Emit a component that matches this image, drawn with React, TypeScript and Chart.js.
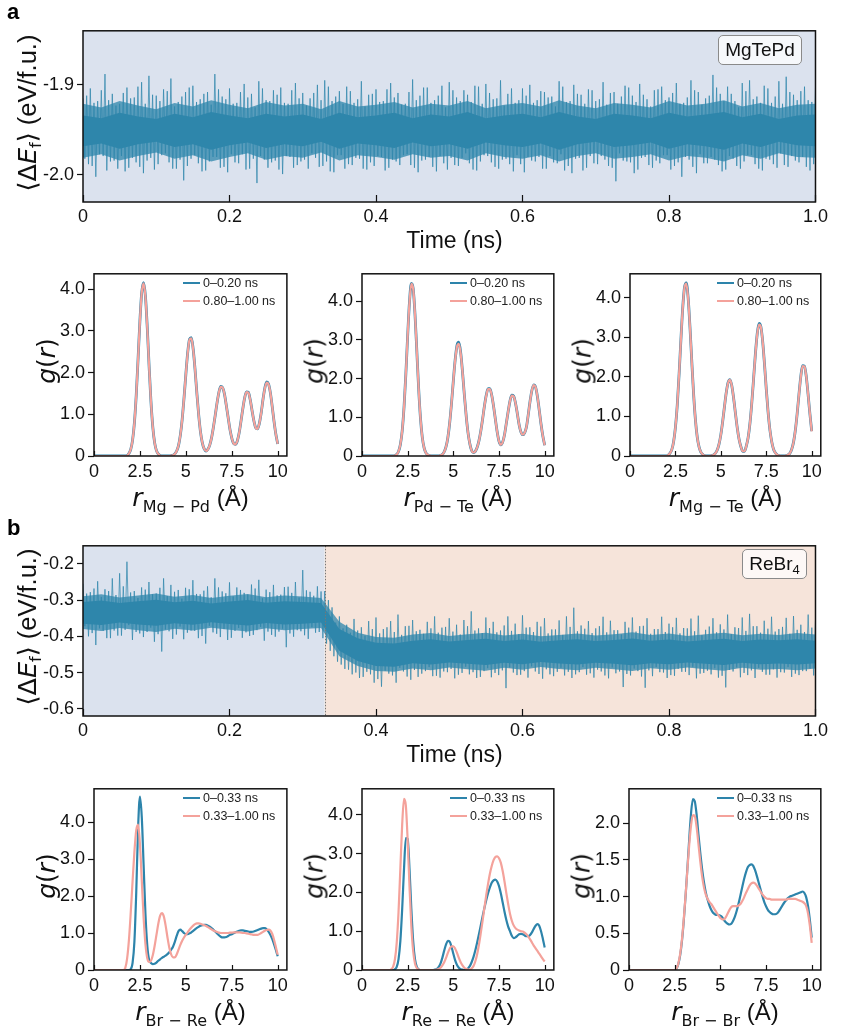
import React, { useEffect, useRef } from "react";
import { Chart, registerables } from "chart.js";
Chart.register(...registerables);

const FONT = "'Liberation Sans', Arial, Helvetica, sans-serif";
const MATH_FONT = "'DejaVu Sans', 'Liberation Sans', sans-serif";
const BLUE = "#2d84ab";
const SALMON = "#f4a29b";
const TRACE_CORE = "#2e86ab";
const TRACE_MID = "rgba(46,134,171,0.75)";
const TRACE_SPIKE = "rgba(46,134,171,0.8)";
const BG_BLUE = "#dbe2ee";
const BG_PEACH = "#f6e4da";

// ---------------- tick values / labels ----------------
const TIME_TICKS = [0, 0.2, 0.4, 0.6, 0.8, 1.0];
const TIME_TICK_LABELS = ["0", "0.2", "0.4", "0.6", "0.8", "1.0"];
const ENERGY_A_TICKS = [-2.0, -1.9];
const ENERGY_A_LABELS = ["-2.0", "-1.9"];
const ENERGY_B_TICKS = [-0.6, -0.5, -0.4, -0.3, -0.2];
const ENERGY_B_LABELS = ["-0.6", "-0.5", "-0.4", "-0.3", "-0.2"];
const R_TICKS = [0, 2.5, 5, 7.5, 10];
const R_TICK_LABELS = ["0", "2.5", "5", "7.5", "10"];
const G_TICKS = [0, 1, 2, 3, 4];
const G_TICK_LABELS = ["0", "1.0", "2.0", "3.0", "4.0"];
const G_BRBR_TICKS = [0, 0.5, 1, 1.5, 2];
const G_BRBR_LABELS = ["0", "0.5", "1.0", "1.5", "2.0"];

const LEGEND_A = ["0\u20130.20 ns", "0.80\u20131.00 ns"];
const LEGEND_B = ["0\u20130.33 ns", "0.33\u20131.00 ns"];
const REBR4_SWITCH = 0.33;

// ---------------- time series ----------------
// Within each 0.01 ns slot the trace visits: high (t), low2 (t+0.0025), high2 (t+0.005), low (t+0.0075)
const NOISE_STEP = 0.01;
const BAND_STEP = 0.025; // dense-band edges

// panel a: MgTePd
const aHigh = [
  -1.915, -1.904, -1.918, -1.888, -1.910, -1.921, -1.903, -1.914, -1.897, -1.890,
  -1.912, -1.905, -1.893, -1.919, -1.908, -1.901, -1.916, -1.908, -1.888, -1.913,
  -1.904, -1.920, -1.899, -1.910, -1.896, -1.917, -1.906, -1.903, -1.921, -1.898,
  -1.909, -1.915, -1.900, -1.895, -1.918, -1.907, -1.902, -1.920, -1.896, -1.911,
  -1.905, -1.918, -1.898, -1.909, -1.921, -1.894, -1.912, -1.903, -1.917, -1.901,
  -1.897, -1.914, -1.906, -1.919, -1.902, -1.899, -1.916, -1.895, -1.910, -1.920,
  -1.904, -1.900, -1.917, -1.908, -1.913, -1.896, -1.919, -1.900, -1.911, -1.905,
  -1.918, -1.897, -1.909, -1.921, -1.901, -1.912, -1.899, -1.916, -1.906, -1.902,
  -1.914, -1.898, -1.920, -1.895, -1.908, -1.915, -1.889, -1.910, -1.902, -1.918,
  -1.898, -1.895, -1.913, -1.901, -1.920, -1.896, -1.891, -1.911, -1.907, -1.917,
  -1.903,
];
const aHigh2 = [
  -1.912, -1.920, -1.906, -1.917, -1.923, -1.909, -1.915, -1.902, -1.921, -1.911,
  -1.918, -1.907, -1.924, -1.913, -1.903, -1.919, -1.910, -1.922, -1.905, -1.916,
  -1.921, -1.908, -1.914, -1.925, -1.904, -1.918, -1.911, -1.920, -1.906, -1.915,
  -1.923, -1.909, -1.917, -1.902, -1.913, -1.921, -1.907, -1.916, -1.924, -1.910,
  -1.919, -1.905, -1.914, -1.922, -1.908, -1.917, -1.903, -1.920, -1.912, -1.925,
  -1.906, -1.918, -1.911, -1.901, -1.921, -1.909, -1.915, -1.923, -1.904, -1.917,
  -1.912, -1.920, -1.907, -1.914, -1.924, -1.902, -1.918, -1.910, -1.921, -1.906,
  -1.916, -1.922, -1.908, -1.913, -1.903, -1.919, -1.911, -1.924, -1.905, -1.917,
  -1.909, -1.921, -1.914, -1.906, -1.922, -1.912, -1.903, -1.918, -1.910, -1.925,
  -1.907, -1.916, -1.920, -1.904, -1.913, -1.921, -1.908, -1.917, -1.902, -1.919,
];
const aLow = [
  -1.988, -2.002, -1.979, -1.985, -1.993, -1.996, -1.981, -1.991, -1.984, -1.994,
  -1.978, -1.986, -1.993, -2.006, -1.982, -1.987, -1.995, -1.980, -1.992, -1.997,
  -1.986, -1.977, -1.993, -2.009, -1.983, -1.986, -1.994, -1.979, -1.992, -1.985,
  -1.993, -1.981, -1.990, -1.996, -1.978, -1.993, -1.989, -1.982, -1.994, -1.990,
  -1.980, -1.992, -1.985, -1.978, -1.989, -1.997, -1.983, -1.991, -1.979, -1.994,
  -1.989, -1.981, -1.987, -1.995, -1.978, -1.986, -1.993, -1.982, -1.996, -1.988,
  -1.980, -1.985, -1.993, -1.979, -1.987, -1.995, -1.998, -1.981, -1.992, -1.987,
  -1.979, -1.990, -2.007, -1.984, -1.986, -1.994, -1.980, -1.992, -1.987, -1.978,
  -1.990, -2.002, -1.983, -1.998, -1.987, -1.980, -1.989, -1.994, -1.982, -1.993,
  -1.978, -1.988, -1.995, -1.983, -1.992, -1.989, -1.979, -1.986, -1.991, -1.988,
];
const aLow2 = [
  -1.982, -1.990, -1.977, -1.995, -1.984, -1.979, -1.992, -1.986, -1.998, -1.981,
  -1.988, -1.976, -1.993, -1.983, -1.990, -1.978, -1.996, -1.985, -1.980, -1.991,
  -1.977, -1.987, -1.994, -1.982, -1.979, -1.992, -1.984, -1.999, -1.980, -1.989,
  -1.983, -1.976, -1.991, -1.985, -1.997, -1.978, -1.988, -1.981, -1.993, -1.986,
  -1.979, -1.995, -1.983, -1.989, -1.977, -1.992, -1.984, -1.980, -1.996, -1.987,
  -1.981, -1.990, -1.976, -1.994, -1.985, -1.979, -1.991, -1.983, -1.988, -1.978,
  -1.997, -1.984, -1.980, -1.993, -1.986, -1.977, -1.990, -1.982, -1.995, -1.979,
  -1.988, -1.983, -1.992, -1.976, -1.985, -1.998, -1.981, -1.989, -1.984, -1.978,
  -1.994, -1.986, -1.980, -1.991, -1.977, -1.987, -1.983, -1.996, -1.979, -1.990,
  -1.985, -1.978, -1.993, -1.982, -1.988, -1.976, -1.991, -1.984, -1.980, -1.995,
];
const aMidHi = [
  -1.921, -1.925, -1.918, -1.923, -1.927, -1.920, -1.924, -1.917, -1.922, -1.926,
  -1.919, -1.923, -1.921, -1.927, -1.918, -1.924, -1.922, -1.919, -1.925, -1.921,
  -1.923, -1.918, -1.926, -1.922, -1.920, -1.924, -1.917, -1.923, -1.926, -1.920,
  -1.922, -1.925, -1.918, -1.923, -1.921, -1.917, -1.924, -1.920, -1.926, -1.922,
  -1.921,
];
const aMidLo = [
  -1.981, -1.977, -1.984, -1.979, -1.975, -1.982, -1.978, -1.985, -1.980, -1.976,
  -1.983, -1.979, -1.981, -1.975, -1.984, -1.978, -1.980, -1.983, -1.977, -1.981,
  -1.979, -1.984, -1.976, -1.980, -1.982, -1.978, -1.985, -1.979, -1.976, -1.982,
  -1.980, -1.977, -1.984, -1.979, -1.981, -1.985, -1.978, -1.982, -1.976, -1.980,
  -1.981,
];
const aCoreHi = [
  -1.934, -1.937, -1.931, -1.935, -1.938, -1.932, -1.936, -1.930, -1.934, -1.937,
  -1.932, -1.935, -1.933, -1.938, -1.931, -1.936, -1.934, -1.931, -1.937, -1.933,
  -1.935, -1.930, -1.937, -1.934, -1.932, -1.936, -1.930, -1.935, -1.938, -1.932,
  -1.934, -1.937, -1.931, -1.935, -1.933, -1.930, -1.936, -1.932, -1.938, -1.934,
  -1.933,
];
const aCoreLo = [
  -1.968, -1.965, -1.971, -1.966, -1.963, -1.969, -1.966, -1.972, -1.967, -1.964,
  -1.970, -1.966, -1.968, -1.963, -1.971, -1.965, -1.967, -1.970, -1.964, -1.968,
  -1.966, -1.971, -1.964, -1.967, -1.969, -1.965, -1.972, -1.966, -1.963, -1.969,
  -1.967, -1.964, -1.971, -1.966, -1.968, -1.972, -1.965, -1.969, -1.963, -1.967,
  -1.968,
];

// panel b: ReBr4
const bHigh = [
  -0.255, -0.278, -0.248, -0.270, -0.240, -0.226, -0.194, -0.275, -0.265, -0.250,
  -0.282, -0.240, -0.258, -0.272, -0.266, -0.245, -0.284, -0.262, -0.240, -0.276,
  -0.251, -0.265, -0.280, -0.257, -0.244, -0.271, -0.258, -0.285, -0.263, -0.250,
  -0.217, -0.277, -0.262, -0.275, -0.320, -0.345, -0.368, -0.352, -0.375, -0.358,
  -0.348, -0.380, -0.358, -0.340, -0.372, -0.355, -0.382, -0.360, -0.345, -0.376,
  -0.350, -0.368, -0.355, -0.331, -0.378, -0.348, -0.360, -0.384, -0.345, -0.365,
  -0.342, -0.375, -0.360, -0.350, -0.381, -0.356, -0.345, -0.321, -0.370, -0.358,
  -0.378, -0.346, -0.357, -0.383, -0.360, -0.348, -0.372, -0.350, -0.380, -0.346,
  -0.365, -0.349, -0.377, -0.351, -0.343, -0.382, -0.350, -0.367, -0.340, -0.375,
  -0.348, -0.338, -0.372, -0.357, -0.346, -0.380, -0.349, -0.344, -0.368, -0.340,
  -0.356,
];
const bHigh2 = [
  -0.282, -0.268, -0.291, -0.275, -0.286, -0.262, -0.279, -0.294, -0.271, -0.284,
  -0.266, -0.289, -0.277, -0.296, -0.270, -0.283, -0.274, -0.292, -0.265, -0.281,
  -0.290, -0.272, -0.285, -0.268, -0.295, -0.278, -0.287, -0.264, -0.280, -0.293,
  -0.273, -0.288, -0.276, -0.300, -0.362, -0.378, -0.390, -0.384, -0.398, -0.380,
  -0.392, -0.375, -0.388, -0.396, -0.371, -0.386, -0.393, -0.378, -0.390, -0.374,
  -0.387, -0.395, -0.372, -0.384, -0.391, -0.377, -0.389, -0.370, -0.385, -0.394,
  -0.376, -0.388, -0.373, -0.392, -0.381, -0.396, -0.374, -0.386, -0.379, -0.391,
  -0.372, -0.389, -0.383, -0.395, -0.376, -0.387, -0.371, -0.393, -0.380, -0.388,
  -0.375, -0.392, -0.378, -0.386, -0.397, -0.373, -0.389, -0.381, -0.394, -0.377,
  -0.385, -0.372, -0.390, -0.379, -0.387, -0.374, -0.393, -0.382, -0.388, -0.376,
];
const bLow = [
  -0.400, -0.424, -0.385, -0.405, -0.398, -0.382, -0.410, -0.392, -0.388, -0.415,
  -0.442, -0.386, -0.395, -0.408, -0.384, -0.405, -0.420, -0.389, -0.402, -0.410,
  -0.385, -0.404, -0.399, -0.383, -0.412, -0.396, -0.387, -0.430, -0.401, -0.386,
  -0.407, -0.390, -0.405, -0.440, -0.470, -0.490, -0.505, -0.515, -0.498, -0.528,
  -0.539, -0.503, -0.528, -0.497, -0.520, -0.512, -0.496, -0.510, -0.514, -0.499,
  -0.516, -0.501, -0.505, -0.515, -0.496, -0.513, -0.507, -0.543, -0.500, -0.506,
  -0.514, -0.497, -0.517, -0.505, -0.498, -0.508, -0.515, -0.499, -0.506, -0.514,
  -0.497, -0.516, -0.502, -0.540, -0.508, -0.496, -0.542, -0.510, -0.499, -0.515,
  -0.509, -0.498, -0.507, -0.516, -0.501, -0.505, -0.514, -0.541, -0.497, -0.513,
  -0.507, -0.515, -0.498, -0.506, -0.514, -0.500, -0.512, -0.507, -0.496, -0.508,
];
const bLow2 = [
  -0.372, -0.391, -0.378, -0.405, -0.384, -0.398, -0.369, -0.388, -0.402, -0.376,
  -0.394, -0.381, -0.407, -0.373, -0.390, -0.385, -0.399, -0.371, -0.393, -0.380,
  -0.404, -0.377, -0.389, -0.396, -0.374, -0.387, -0.401, -0.379, -0.392, -0.383,
  -0.397, -0.375, -0.388, -0.420, -0.455, -0.478, -0.492, -0.500, -0.512, -0.505,
  -0.518, -0.495, -0.508, -0.487, -0.511, -0.493, -0.503, -0.485, -0.509, -0.497,
  -0.490, -0.506, -0.484, -0.499, -0.512, -0.488, -0.501, -0.494, -0.486, -0.507,
  -0.496, -0.483, -0.504, -0.491, -0.510, -0.487, -0.498, -0.505, -0.485, -0.502,
  -0.492, -0.508, -0.486, -0.497, -0.504, -0.489, -0.511, -0.494, -0.485, -0.500,
  -0.507, -0.490, -0.498, -0.484, -0.503, -0.495, -0.488, -0.509, -0.493, -0.486,
  -0.501, -0.494, -0.487, -0.506, -0.491, -0.499, -0.485, -0.503, -0.496, -0.489,
];
const bMidHi = [
  -0.289, -0.284, -0.293, -0.287, -0.282, -0.291, -0.286, -0.294, -0.288, -0.283,
  -0.292, -0.287, -0.290, -0.294, -0.360, -0.390, -0.402, -0.404, -0.395, -0.391,
  -0.399, -0.394, -0.390, -0.398, -0.393, -0.400, -0.396, -0.392, -0.398, -0.394,
  -0.389, -0.396, -0.392, -0.399, -0.394, -0.390, -0.397, -0.393, -0.396, -0.391,
  -0.395,
];
const bMidLo = [
  -0.380, -0.385, -0.377, -0.383, -0.388, -0.379, -0.384, -0.376, -0.382, -0.387,
  -0.378, -0.383, -0.380, -0.377, -0.455, -0.482, -0.496, -0.498, -0.489, -0.494,
  -0.486, -0.491, -0.495, -0.487, -0.492, -0.485, -0.490, -0.494, -0.487, -0.491,
  -0.496, -0.488, -0.492, -0.486, -0.491, -0.495, -0.487, -0.492, -0.490, -0.494,
  -0.489,
];
const bCoreHi = [
  -0.305, -0.301, -0.308, -0.303, -0.299, -0.306, -0.302, -0.309, -0.304, -0.300,
  -0.307, -0.303, -0.305, -0.308, -0.380, -0.405, -0.418, -0.420, -0.412, -0.408,
  -0.414, -0.410, -0.407, -0.413, -0.409, -0.415, -0.411, -0.408, -0.413, -0.410,
  -0.406, -0.412, -0.409, -0.414, -0.410, -0.407, -0.413, -0.409, -0.411, -0.408,
  -0.412,
];
const bCoreLo = [
  -0.365, -0.369, -0.362, -0.367, -0.371, -0.364, -0.368, -0.361, -0.366, -0.370,
  -0.363, -0.367, -0.365, -0.362, -0.440, -0.468, -0.482, -0.484, -0.474, -0.478,
  -0.472, -0.476, -0.479, -0.473, -0.477, -0.471, -0.475, -0.478, -0.473, -0.476,
  -0.480, -0.474, -0.477, -0.472, -0.476, -0.479, -0.473, -0.477, -0.475, -0.478,
  -0.474,
];

// ---------------- radial distribution functions ----------------
// r grid: 0, then 1.5 .. 10.0 in 0.1 Å steps
const R_GRID = [
  0,
  1.5, 1.6, 1.7, 1.8, 1.9,
  2.0, 2.1, 2.2, 2.3, 2.4, 2.5, 2.6, 2.7, 2.8, 2.9,
  3.0, 3.1, 3.2, 3.3, 3.4, 3.5, 3.6, 3.7, 3.8, 3.9,
  4.0, 4.1, 4.2, 4.3, 4.4, 4.5, 4.6, 4.7, 4.8, 4.9,
  5.0, 5.1, 5.2, 5.3, 5.4, 5.5, 5.6, 5.7, 5.8, 5.9,
  6.0, 6.1, 6.2, 6.3, 6.4, 6.5, 6.6, 6.7, 6.8, 6.9,
  7.0, 7.1, 7.2, 7.3, 7.4, 7.5, 7.6, 7.7, 7.8, 7.9,
  8.0, 8.1, 8.2, 8.3, 8.4, 8.5, 8.6, 8.7, 8.8, 8.9,
  9.0, 9.1, 9.2, 9.3, 9.4, 9.5, 9.6, 9.7, 9.8, 9.9,
  10.0,
];

const gMgPdEarly = [
  0,
  0, 0, 0, 0.01, 0.06,
  0.16, 0.38, 0.80, 1.47, 2.34, 3.25, 3.93, 4.16, 3.83, 3.08,
  2.15, 1.31, 0.70, 0.32, 0.13, 0.05, 0.01, 0, 0, 0,
  0, 0, 0.01, 0.02, 0.05, 0.12, 0.25, 0.50, 0.88, 1.39,
  1.96, 2.48, 2.80, 2.84, 2.56, 2.08, 1.50, 0.98, 0.57, 0.31,
  0.17, 0.12, 0.16, 0.26, 0.44, 0.69, 0.98, 1.28, 1.53, 1.67,
  1.64, 1.49, 1.22, 0.93, 0.64, 0.43, 0.30, 0.28, 0.36, 0.55,
  0.83, 1.13, 1.39, 1.54, 1.53, 1.36, 1.10, 0.85, 0.68, 0.65,
  0.78, 1.03, 1.36, 1.63, 1.78, 1.73, 1.52, 1.19, 0.83, 0.52,
  0.29,
];
const gMgPdLate = [
  0,
  0, 0, 0, 0.01, 0.06,
  0.16, 0.38, 0.80, 1.47, 2.33, 3.24, 3.92, 4.14, 3.82, 3.07,
  2.15, 1.31, 0.70, 0.32, 0.13, 0.05, 0.01, 0, 0, 0,
  0, 0, 0.01, 0.02, 0.05, 0.12, 0.25, 0.50, 0.88, 1.39,
  1.96, 2.47, 2.79, 2.82, 2.55, 2.08, 1.50, 0.98, 0.57, 0.31,
  0.17, 0.12, 0.16, 0.26, 0.44, 0.69, 0.98, 1.28, 1.53, 1.66,
  1.64, 1.49, 1.22, 0.93, 0.64, 0.43, 0.30, 0.28, 0.36, 0.55,
  0.83, 1.13, 1.39, 1.53, 1.52, 1.36, 1.10, 0.85, 0.68, 0.65,
  0.78, 1.03, 1.36, 1.62, 1.76, 1.72, 1.52, 1.19, 0.83, 0.52,
  0.29,
];

const gPdTeEarly = [
  0,
  0, 0, 0, 0.01, 0.04,
  0.12, 0.30, 0.65, 1.26, 2.12, 3.12, 3.99, 4.46, 4.33, 3.67,
  2.72, 1.75, 0.98, 0.48, 0.21, 0.08, 0.03, 0.01, 0, 0,
  0, 0, 0, 0.02, 0.04, 0.11, 0.24, 0.48, 0.86, 1.37,
  1.95, 2.49, 2.86, 2.94, 2.68, 2.18, 1.59, 1.05, 0.61, 0.32,
  0.14, 0.09, 0.12, 0.22, 0.39, 0.64, 0.95, 1.29, 1.57, 1.74,
  1.74, 1.57, 1.29, 0.95, 0.62, 0.38, 0.29, 0.36, 0.55, 0.85,
  1.15, 1.42, 1.57, 1.55, 1.37, 1.10, 0.81, 0.62, 0.55, 0.60,
  0.75, 1.07, 1.42, 1.70, 1.84, 1.78, 1.54, 1.19, 0.82, 0.51,
  0.28,
];
const gPdTeLate = [
  0,
  0, 0, 0, 0.01, 0.04,
  0.12, 0.30, 0.65, 1.26, 2.12, 3.12, 3.98, 4.45, 4.33, 3.67,
  2.72, 1.75, 0.98, 0.48, 0.21, 0.08, 0.03, 0.01, 0, 0,
  0, 0, 0, 0.02, 0.04, 0.11, 0.24, 0.48, 0.86, 1.37,
  1.95, 2.48, 2.83, 2.90, 2.66, 2.18, 1.59, 1.05, 0.61, 0.32,
  0.14, 0.09, 0.12, 0.22, 0.39, 0.64, 0.95, 1.29, 1.56, 1.73,
  1.73, 1.57, 1.29, 0.95, 0.62, 0.38, 0.29, 0.36, 0.55, 0.85,
  1.15, 1.42, 1.56, 1.54, 1.37, 1.10, 0.81, 0.62, 0.55, 0.60,
  0.75, 1.07, 1.42, 1.70, 1.83, 1.78, 1.54, 1.19, 0.82, 0.51,
  0.28,
];

const gMgTeEarly = [
  0,
  0, 0, 0, 0, 0,
  0, 0.02, 0.07, 0.16, 0.36, 0.72, 1.28, 2.05, 2.92, 3.73,
  4.26, 4.37, 3.99, 3.26, 2.39, 1.57, 0.92, 0.48, 0.23, 0.10,
  0.04, 0.01, 0, 0, 0, 0.01, 0.03, 0.07, 0.15, 0.30,
  0.54, 0.87, 1.25, 1.61, 1.86, 1.93, 1.78, 1.47, 1.09, 0.72,
  0.43, 0.24, 0.12, 0.12, 0.25, 0.46, 0.82, 1.33, 1.94, 2.57,
  3.08, 3.35, 3.27, 2.90, 2.33, 1.69, 1.11, 0.66, 0.36, 0.17,
  0.08, 0.03, 0.01, 0, 0, 0, 0.01, 0.03, 0.07, 0.17,
  0.35, 0.65, 1.07, 1.56, 2.01, 2.28, 2.27, 2.01, 1.56, 1.07,
  0.63,
];
const gMgTeLate = [
  0,
  0, 0, 0, 0, 0,
  0, 0.02, 0.07, 0.16, 0.36, 0.72, 1.28, 2.05, 2.92, 3.72,
  4.25, 4.35, 3.98, 3.26, 2.39, 1.57, 0.92, 0.48, 0.23, 0.10,
  0.04, 0.01, 0, 0, 0, 0.01, 0.03, 0.07, 0.15, 0.30,
  0.54, 0.87, 1.25, 1.61, 1.85, 1.92, 1.78, 1.47, 1.09, 0.72,
  0.43, 0.24, 0.12, 0.12, 0.25, 0.46, 0.82, 1.33, 1.94, 2.56,
  3.07, 3.32, 3.26, 2.90, 2.33, 1.69, 1.11, 0.66, 0.36, 0.17,
  0.08, 0.03, 0.01, 0, 0, 0, 0.01, 0.03, 0.07, 0.17,
  0.35, 0.65, 1.07, 1.56, 2.00, 2.27, 2.26, 2.01, 1.56, 1.07,
  0.62,
];

const gBrReEarly = [
  0,
  0, 0, 0, 0, 0,
  0.02, 0.19, 0.77, 2.11, 3.84, 4.69, 4.14, 2.85, 1.52, 0.66,
  0.27, 0.19, 0.16, 0.17, 0.20, 0.25, 0.29, 0.33, 0.36, 0.39,
  0.43, 0.48, 0.55, 0.63, 0.76, 0.92, 1.05, 1.09, 1.05, 1.00,
  0.97, 0.97, 0.99, 1.02, 1.06, 1.10, 1.14, 1.17, 1.20, 1.21,
  1.22, 1.22, 1.20, 1.17, 1.13, 1.09, 1.04, 0.99, 0.94, 0.90,
  0.88, 0.88, 0.89, 0.92, 0.95, 0.97, 0.99, 1.02, 1.04, 1.06,
  1.07, 1.07, 1.06, 1.05, 1.04, 1.03, 1.03, 1.04, 1.06, 1.08,
  1.10, 1.12, 1.13, 1.13, 1.10, 1.04, 0.95, 0.84, 0.70, 0.54,
  0.37,
];
const gBrReLate = [
  0,
  0, 0, 0.05, 0.30, 0.80,
  1.55, 2.40, 3.20, 3.78, 3.93, 3.41, 2.43, 1.42, 0.70, 0.32,
  0.22, 0.25, 0.40, 0.65, 0.95, 1.25, 1.47, 1.54, 1.45, 1.20,
  0.88, 0.60, 0.42, 0.34, 0.34, 0.42, 0.55, 0.68, 0.79, 0.88,
  0.95, 1.02, 1.09, 1.15, 1.20, 1.24, 1.26, 1.26, 1.25, 1.23,
  1.21, 1.19, 1.16, 1.13, 1.10, 1.07, 1.05, 1.03, 1.01, 1.00,
  1.00, 1.00, 1.00, 1.00, 1.01, 1.01, 1.02, 1.02, 1.02, 1.02,
  1.01, 1.00, 1.00, 0.99, 0.98, 0.97, 0.96, 0.95, 0.95, 0.95,
  0.97, 1.00, 1.03, 1.06, 1.08, 1.09, 1.07, 0.98, 0.82, 0.62,
  0.41,
];

const gReReEarly = [
  0,
  0, 0, 0, 0.02, 0.08,
  0.28, 0.75, 1.58, 2.61, 3.40, 3.38, 2.61, 1.58, 0.75, 0.28,
  0.08, 0.02, 0, 0, 0, 0, 0, 0, 0, 0,
  0.01, 0.03, 0.08, 0.17, 0.32, 0.50, 0.66, 0.75, 0.73, 0.60,
  0.42, 0.25, 0.13, 0.06, 0.02, 0.01, 0, 0.01, 0.04, 0.10,
  0.20, 0.33, 0.50, 0.70, 0.92, 1.15, 1.38, 1.60, 1.80, 1.98,
  2.13, 2.25, 2.31, 2.33, 2.28, 2.16, 1.97, 1.74, 1.50, 1.29,
  1.12, 1.00, 0.88, 0.82, 0.84, 0.88, 0.92, 0.93, 0.92, 0.89,
  0.87, 0.87, 0.90, 0.97, 1.06, 1.14, 1.18, 1.14, 1.00, 0.80,
  0.58,
];
const gReReLate = [
  0,
  0, 0.02, 0.08, 0.27, 0.70,
  1.50, 2.62, 3.76, 4.41, 4.24, 3.33, 2.15, 1.13, 0.49, 0.17,
  0.05, 0.01, 0, 0, 0, 0, 0, 0, 0, 0,
  0, 0.01, 0.03, 0.06, 0.12, 0.20, 0.31, 0.44, 0.55, 0.61,
  0.61, 0.55, 0.44, 0.31, 0.20, 0.12, 0.06, 0.03, 0.01, 0.01,
  0.04, 0.10, 0.22, 0.40, 0.65, 0.95, 1.27, 1.60, 1.93, 2.22,
  2.48, 2.68, 2.83, 2.91, 2.93, 2.88, 2.76, 2.55, 2.28, 1.98,
  1.70, 1.45, 1.27, 1.15, 1.08, 1.04, 1.02, 1.00, 0.99, 0.96,
  0.92, 0.86, 0.79, 0.71, 0.63, 0.56, 0.49, 0.42, 0.35, 0.28,
  0.22,
];

const gBrBrEarly = [
  0,
  0, 0, 0, 0, 0,
  0, 0, 0, 0, 0, 0, 0.02, 0.08, 0.20, 0.40,
  0.68, 1.02, 1.40, 1.80, 2.15, 2.33, 2.30, 2.12, 1.85, 1.60,
  1.38, 1.20, 1.06, 0.96, 0.88, 0.82, 0.78, 0.76, 0.75, 0.75,
  0.74, 0.72, 0.68, 0.65, 0.63, 0.62, 0.63, 0.67, 0.73, 0.81,
  0.91, 1.02, 1.13, 1.24, 1.33, 1.40, 1.43, 1.44, 1.42, 1.36,
  1.28, 1.19, 1.10, 1.01, 0.93, 0.87, 0.82, 0.79, 0.77, 0.76,
  0.76, 0.77, 0.80, 0.84, 0.88, 0.92, 0.95, 0.98, 1.00, 1.01,
  1.02, 1.03, 1.04, 1.05, 1.06, 1.07, 1.05, 0.99, 0.87, 0.68,
  0.44,
];
const gBrBrLate = [
  0,
  0, 0, 0, 0, 0,
  0, 0, 0, 0, 0, 0, 0.02, 0.09, 0.22, 0.42,
  0.70, 1.03, 1.38, 1.72, 1.98, 2.11, 2.10, 1.95, 1.72, 1.48,
  1.28, 1.13, 1.03, 0.97, 0.93, 0.90, 0.86, 0.82, 0.78, 0.74,
  0.71, 0.69, 0.69, 0.72, 0.77, 0.82, 0.86, 0.87, 0.87, 0.87,
  0.88, 0.90, 0.94, 0.99, 1.05, 1.10, 1.15, 1.18, 1.19, 1.18,
  1.15, 1.11, 1.07, 1.03, 1.00, 0.98, 0.97, 0.97, 0.96, 0.96,
  0.96, 0.96, 0.96, 0.96, 0.96, 0.96, 0.96, 0.97, 0.97, 0.97,
  0.97, 0.97, 0.96, 0.95, 0.94, 0.93, 0.91, 0.87, 0.77, 0.60,
  0.37,
];

// ---------------- layout ----------------
type Box = { L: number; T: number; R: number; B: number };
const PAD_L = 70;
const PAD_T = 6;
const PAD_R = 6;
const PAD_B = 34;

const BOX_TA: Box = { L: 83, T: 23, R: 826, B: 202 };
const BOX_TB: Box = { L: 83, T: 538, R: 826, B: 716 };
const BOX_A1: Box = { L: 94, T: 266, R: 287, B: 456 };
const BOX_A2: Box = { L: 362, T: 266, R: 554, B: 456 };
const BOX_A3: Box = { L: 630, T: 266, R: 821, B: 456 };
const BOX_B1: Box = { L: 94, T: 781, R: 287, B: 970 };
const BOX_B2: Box = { L: 362, T: 781, R: 554, B: 970 };
const BOX_B3: Box = { L: 629, T: 781, R: 821, B: 970 };

interface AxisSpec {
  min: number;
  max: number;
  ticks: number[];
  labels: string[];
}

function fmt(spec: AxisSpec) {
  return (v: any) => {
    const i = spec.ticks.findIndex((t) => Math.abs(t - Number(v)) < 1e-9);
    return i >= 0 ? spec.labels[i] : "";
  };
}

function makeScales(x: AxisSpec, y: AxisSpec, xPad: number) {
  return {
    x: {
      type: "linear",
      min: x.min,
      max: x.max,
      afterBuildTicks: (s: any) => {
        s.ticks = x.ticks.map((value) => ({ value }));
      },
      afterFit: (s: any) => {
        s.height = PAD_B;
      },
      grid: { display: true, drawOnChartArea: false, drawTicks: false },
      border: { display: false },
      ticks: {
        autoSkip: false,
        maxRotation: 0,
        minRotation: 0,
        padding: xPad,
        color: "#111",
        font: { family: FONT, size: 18 },
        callback: fmt(x),
      },
    },
    y: {
      type: "linear",
      min: y.min,
      max: y.max,
      afterBuildTicks: (s: any) => {
        s.ticks = y.ticks.map((value) => ({ value }));
      },
      afterFit: (s: any) => {
        s.width = PAD_L;
      },
      grid: {
        display: true,
        drawOnChartArea: false,
        drawTicks: true,
        tickLength: 6,
        tickColor: "#111",
        tickWidth: 1.2,
      },
      border: { display: false },
      ticks: {
        autoSkip: false,
        padding: 3,
        color: "#111",
        font: { family: FONT, size: 18 },
        callback: fmt(y),
      },
    },
  };
}

function framePlugin(opts: {
  bands?: { from: number; to: number; color: string }[];
  divider?: number;
  xTicks: number[];
  tickLen: number;
}) {
  return {
    id: "frame",
    beforeDraw(chart: any) {
      const { ctx, chartArea: a } = chart;
      const xs = chart.scales.x;
      ctx.save();
      (opts.bands || []).forEach((b) => {
        const x0 = xs.getPixelForValue(b.from);
        const x1 = xs.getPixelForValue(b.to);
        ctx.fillStyle = b.color;
        ctx.fillRect(x0, a.top, x1 - x0, a.bottom - a.top);
      });
      ctx.restore();
    },
    afterDatasetsDraw(chart: any) {
      const { ctx, chartArea: a } = chart;
      const xs = chart.scales.x;
      ctx.save();
      if (opts.divider != null) {
        const x = Math.round(xs.getPixelForValue(opts.divider)) + 0.5;
        ctx.strokeStyle = "#777";
        ctx.lineWidth = 1;
        ctx.setLineDash([1.5, 1.5]);
        ctx.beginPath();
        ctx.moveTo(x, a.top);
        ctx.lineTo(x, a.bottom);
        ctx.stroke();
        ctx.setLineDash([]);
      }
      ctx.strokeStyle = "#111";
      ctx.lineWidth = 1.2;
      opts.xTicks.forEach((v) => {
        const x = Math.round(xs.getPixelForValue(v)) + 0.5;
        ctx.beginPath();
        ctx.moveTo(x, a.bottom);
        ctx.lineTo(x, a.bottom - opts.tickLen);
        ctx.stroke();
      });
      ctx.lineWidth = 1.5;
      ctx.strokeRect(a.left, a.top, a.right - a.left, a.bottom - a.top);
      ctx.restore();
    },
  };
}

const baseOptions = {
  animation: false,
  responsive: false,
  maintainAspectRatio: false,
  events: [],
  layout: { padding: { top: PAD_T, right: PAD_R, left: 0, bottom: 0 } },
  plugins: { legend: { display: false }, tooltip: { enabled: false } },
};

const hidden = { borderColor: "transparent", borderWidth: 0, pointRadius: 0, tension: 0 };

interface Trace {
  high: number[];
  low2: number[];
  high2: number[];
  low: number[];
  midHi: number[];
  midLo: number[];
  coreHi: number[];
  coreLo: number[];
}

function timeConfig(tr: Trace, yAxis: AxisSpec, bands: { from: number; to: number; color: string }[], divider?: number) {
  const zig: { x: number; y: number }[] = [];
  tr.high.forEach((y, i) => {
    const t = i * NOISE_STEP;
    zig.push({ x: t, y });
    if (i < tr.low.length) {
      zig.push({ x: t + NOISE_STEP * 0.25, y: tr.low2[i] });
      zig.push({ x: t + NOISE_STEP * 0.5, y: tr.high2[i] });
      zig.push({ x: t + NOISE_STEP * 0.75, y: tr.low[i] });
    }
  });
  const pts = (arr: number[]) => arr.map((y, i) => ({ x: i * BAND_STEP, y }));
  // Chart.js draws dataset 0 last (on top)
  return {
    type: "line",
    data: {
      datasets: [
        { data: pts(tr.coreHi), fill: "+1", backgroundColor: TRACE_CORE, ...hidden },
        { data: pts(tr.coreLo), fill: false, ...hidden },
        { data: pts(tr.midHi), fill: "+1", backgroundColor: TRACE_MID, ...hidden },
        { data: pts(tr.midLo), fill: false, ...hidden },
        { data: zig, fill: false, borderColor: TRACE_SPIKE, borderWidth: 0.9, pointRadius: 0, tension: 0 },
      ],
    },
    options: {
      ...baseOptions,
      scales: makeScales({ min: 0, max: 1, ticks: TIME_TICKS, labels: TIME_TICK_LABELS }, yAxis, 4),
    },
    plugins: [framePlugin({ bands, divider, xTicks: TIME_TICKS, tickLen: 7 })],
  };
}

function grConfig(early: number[], late: number[], yAxis: AxisSpec, labels: string[], overlap: boolean) {
  // dataset 0 is drawn on top in Chart.js, so the late (salmon) curve goes first
  return {
    type: "line",
    data: {
      datasets: [
        {
          label: labels[1],
          data: R_GRID.map((x, i) => ({ x, y: late[i] })),
          borderColor: SALMON,
          borderWidth: 2.2,
          pointRadius: 0,
          cubicInterpolationMode: "monotone",
          fill: false,
        },
        {
          label: labels[0],
          data: R_GRID.map((x, i) => ({ x, y: early[i] })),
          borderColor: BLUE,
          borderWidth: overlap ? 2.8 : 2.2,
          pointRadius: 0,
          cubicInterpolationMode: "monotone",
          fill: false,
        },
      ],
    },
    options: {
      ...baseOptions,
      scales: makeScales({ min: 0, max: 10.5, ticks: R_TICKS, labels: R_TICK_LABELS }, yAxis, 5),
    },
    plugins: [framePlugin({ xTicks: R_TICKS, tickLen: 5 })],
  };
}

function PlotCanvas({ box, make }: { box: Box; make: () => any }) {
  const ref = useRef<HTMLCanvasElement | null>(null);
  useEffect(() => {
    if (!ref.current) return;
    const chart = new Chart(ref.current, make());
    return () => chart.destroy();
  }, []);
  const w = box.R - box.L + PAD_L + PAD_R;
  const h = box.B - box.T + PAD_T + PAD_B;
  return (
    <canvas
      ref={ref}
      width={w}
      height={h}
      style={{ position: "absolute", left: box.L - PAD_L, top: box.T - PAD_T, width: w, height: h }}
    />
  );
}

function Txt({ x, y, rotate, style, children }: { x: number; y: number; rotate?: boolean; style?: any; children: any }) {
  return (
    <div
      style={{
        position: "absolute",
        left: x,
        top: y,
        transform: `translate(-50%, -50%)${rotate ? " rotate(-90deg)" : ""}`,
        whiteSpace: "nowrap",
        lineHeight: 1,
        color: "#111",
        ...style,
      }}
    >
      {children}
    </div>
  );
}

function RTitle({ box, pair }: { box: Box; pair: string }) {
  return (
    <Txt x={(box.L + box.R) / 2} y={box.B + 41}>
      <span style={{ fontFamily: MATH_FONT, fontStyle: "italic", fontSize: 25 }}>r</span>
      <span style={{ fontFamily: MATH_FONT, fontSize: 16, position: "relative", top: 6 }}>{pair}</span>
      <span style={{ fontFamily: FONT, fontSize: 24 }}>{" (\u00c5)"}</span>
    </Txt>
  );
}

function GTitle({ box }: { box: Box }) {
  return (
    <Txt x={box.L - 48} y={(box.T + box.B) / 2} rotate style={{ fontFamily: MATH_FONT, fontSize: 25 }}>
      <i>g</i>(<i>r</i>)
    </Txt>
  );
}

function ETitle({ box }: { box: Box }) {
  return (
    <Txt x={28} y={(box.T + box.B) / 2} rotate style={{ fontSize: 25.5, fontFamily: FONT }}>
      <span style={{ fontFamily: MATH_FONT }}>
        {"\u27e8\u0394"}
        <i>E</i>
        <span style={{ fontSize: 16, position: "relative", top: 5 }}>f</span>
        {"\u27e9"}
      </span>
      {" (eV/f.u.)"}
    </Txt>
  );
}

function Legend({ box, labels }: { box: Box; labels: string[] }) {
  return (
    <>
      {labels.map((lab, i) => {
        const cy = box.T + 17 + i * 18;
        return (
          <React.Fragment key={i}>
            <div
              style={{
                position: "absolute",
                left: box.R - 104,
                top: cy - 1.25,
                width: 17,
                height: 2.5,
                background: i === 0 ? BLUE : SALMON,
              }}
            />
            <div
              style={{
                position: "absolute",
                left: box.R - 84,
                top: cy,
                transform: "translateY(-50%)",
                fontSize: 12.5,
                lineHeight: 1,
                color: "#222",
                whiteSpace: "nowrap",
              }}
            >
              {lab}
            </div>
          </React.Fragment>
        );
      })}
    </>
  );
}

const gAxis = (max: number): AxisSpec => ({ min: 0, max, ticks: G_TICKS, labels: G_TICK_LABELS });

const boxStyle = {
  position: "absolute" as const,
  height: 30,
  boxSizing: "border-box" as const,
  border: "1px solid #8a8a8a",
  borderRadius: 5,
  background: "rgba(255,255,255,0.75)",
  display: "flex",
  alignItems: "center",
  justifyContent: "center",
  fontSize: 19,
  color: "#111",
};

const TRACE_A: Trace = {
  high: aHigh, low2: aLow2, high2: aHigh2, low: aLow,
  midHi: aMidHi, midLo: aMidLo, coreHi: aCoreHi, coreLo: aCoreLo,
};
const TRACE_B: Trace = {
  high: bHigh, low2: bLow2, high2: bHigh2, low: bLow,
  midHi: bMidHi, midLo: bMidLo, coreHi: bCoreHi, coreLo: bCoreLo,
};

export default function App() {
  return (
    <div
      style={{
        position: "absolute",
        left: 0,
        top: 0,
        width: 846,
        height: 1031,
        overflow: "hidden",
        background: "#fff",
        fontFamily: FONT,
      }}
    >
      {/* panel a */}
      <PlotCanvas
        box={BOX_TA}
        make={() =>
          timeConfig(TRACE_A, { min: -2.03, max: -1.84, ticks: ENERGY_A_TICKS, labels: ENERGY_A_LABELS }, [
            { from: 0, to: 1, color: BG_BLUE },
          ])
        }
      />
      <PlotCanvas box={BOX_A1} make={() => grConfig(gMgPdEarly, gMgPdLate, gAxis(4.37), LEGEND_A, true)} />
      <PlotCanvas box={BOX_A2} make={() => grConfig(gPdTeEarly, gPdTeLate, gAxis(4.71), LEGEND_A, true)} />
      <PlotCanvas box={BOX_A3} make={() => grConfig(gMgTeEarly, gMgTeLate, gAxis(4.6), LEGEND_A, true)} />

      {/* panel b */}
      <PlotCanvas
        box={BOX_TB}
        make={() =>
          timeConfig(
            TRACE_B,
            { min: -0.62, max: -0.15, ticks: ENERGY_B_TICKS, labels: ENERGY_B_LABELS },
            [
              { from: 0, to: REBR4_SWITCH, color: BG_BLUE },
              { from: REBR4_SWITCH, to: 1, color: BG_PEACH },
            ],
            REBR4_SWITCH
          )
        }
      />
      <PlotCanvas box={BOX_B1} make={() => grConfig(gBrReEarly, gBrReLate, gAxis(4.9), LEGEND_B, false)} />
      <PlotCanvas box={BOX_B2} make={() => grConfig(gReReEarly, gReReLate, gAxis(4.67), LEGEND_B, false)} />
      <PlotCanvas
        box={BOX_B3}
        make={() => grConfig(gBrBrEarly, gBrBrLate, { min: 0, max: 2.47, ticks: G_BRBR_TICKS, labels: G_BRBR_LABELS }, LEGEND_B, false)}
      />

      {/* panel letters */}
      <div style={{ position: "absolute", left: 7, top: 1, fontSize: 22, fontWeight: "bold", lineHeight: 1 }}>a</div>
      <div style={{ position: "absolute", left: 7, top: 517, fontSize: 22, fontWeight: "bold", lineHeight: 1 }}>b</div>

      {/* compound boxes */}
      <div style={{ ...boxStyle, left: 718, top: 35, width: 84 }}>MgTePd</div>
      <div style={{ ...boxStyle, left: 742, top: 549, width: 65 }}>
        <span>
          ReBr<span style={{ fontSize: 13, position: "relative", top: 4 }}>4</span>
        </span>
      </div>

      {/* axis titles */}
      <ETitle box={BOX_TA} />
      <ETitle box={BOX_TB} />
      <Txt x={(BOX_TA.L + BOX_TA.R) / 2} y={BOX_TA.B + 38} style={{ fontSize: 23 }}>
        Time (ns)
      </Txt>
      <Txt x={(BOX_TB.L + BOX_TB.R) / 2} y={BOX_TB.B + 38} style={{ fontSize: 23 }}>
        Time (ns)
      </Txt>

      <GTitle box={BOX_A1} />
      <GTitle box={BOX_A2} />
      <GTitle box={BOX_A3} />
      <GTitle box={BOX_B1} />
      <GTitle box={BOX_B2} />
      <GTitle box={BOX_B3} />

      <RTitle box={BOX_A1} pair={"Mg \u2212 Pd"} />
      <RTitle box={BOX_A2} pair={"Pd \u2212 Te"} />
      <RTitle box={BOX_A3} pair={"Mg \u2212 Te"} />
      <RTitle box={BOX_B1} pair={"Br \u2212 Re"} />
      <RTitle box={BOX_B2} pair={"Re \u2212 Re"} />
      <RTitle box={BOX_B3} pair={"Br \u2212 Br"} />

      <Legend box={BOX_A1} labels={LEGEND_A} />
      <Legend box={BOX_A2} labels={LEGEND_A} />
      <Legend box={BOX_A3} labels={LEGEND_A} />
      <Legend box={BOX_B1} labels={LEGEND_B} />
      <Legend box={BOX_B2} labels={LEGEND_B} />
      <Legend box={BOX_B3} labels={LEGEND_B} />
    </div>
  );
}
